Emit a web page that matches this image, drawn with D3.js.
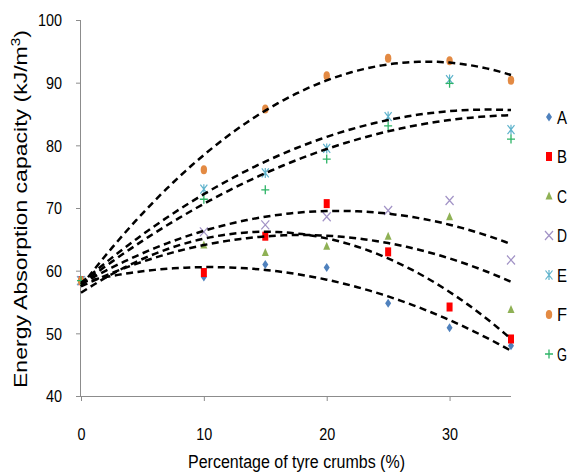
<!DOCTYPE html>
<html>
<head>
<meta charset="utf-8">
<script src="https://cdn.jsdelivr.net/npm/d3@7"></script>
<style>
  html, body { margin: 0; padding: 0; background: #fff; }
  svg { display: block; }
  text { font-family: "Liberation Sans", Arial, sans-serif; fill: #000; }
</style>
</head>
<body>
<svg id="chart" width="576" height="473"></svg>
<script>
// Tyre crumb content (%) on the x axis
const tyreCrumbs = [0, 10, 15, 20, 25, 30, 35];

// Energy absorption capacity (kJ/m3) for each mix
const seriesNames = ["A", "B", "C", "D", "E", "F", "G"];
const seriesA = [58.4, 59.0, 61.0, 60.5, 54.8, 50.9, 48.0];
const seriesB = [58.4, 59.7, 65.5, 70.7, 63.0, 54.2, 49.1];
const seriesC = [58.4, 64.1, 62.9, 63.9, 65.5, 68.6, 53.8];
const seriesD = [58.4, 66.2, 67.3, 68.6, 69.6, 71.2, 61.7];
const seriesE = [58.4, 73.0, 75.6, 79.5, 84.6, 90.5, 82.5];
const seriesF = [58.4, 76.1, 85.8, 91.1, 93.9, 93.5, 90.4];
const seriesG = [58.4, 71.4, 72.9, 77.8, 83.1, 89.9, 81.0];

const xTickValues = [0, 10, 20, 30];
const yTickValues = [40, 50, 60, 70, 80, 90, 100];

const allSeries = [seriesA, seriesB, seriesC, seriesD, seriesE, seriesF, seriesG];

const svg = d3.select("#chart");

const x = d3.scaleLinear().domain([0, 35]).range([81, 511]);
const y = d3.scaleLinear().domain([40, 100]).range([396, 20]);

const axisColor = "#8c8c8c";

// Y axis
const yAxis = svg.append("g")
  .attr("transform", `translate(${x(0)},0)`)
  .call(d3.axisLeft(y).tickValues(yTickValues).tickSize(5).tickPadding(14).tickFormat(d3.format("d")));
yAxis.select(".domain").attr("stroke", axisColor).attr("d", `M-0.5,${y(100)}V${y(40)}`);
yAxis.selectAll(".tick line").attr("stroke", axisColor);
yAxis.selectAll(".tick text")
  .attr("font-size", 16)
  .attr("font-family", "Liberation Sans, Arial, sans-serif")
  .attr("textLength", d => String(d).length * 8)
  .attr("lengthAdjust", "spacingAndGlyphs")
  .attr("dy", "0.36em");

// X axis
const xAxis = svg.append("g")
  .attr("transform", `translate(0,${y(40)})`)
  .call(d3.axisBottom(x).tickValues(xTickValues).tickSize(5).tickPadding(28).tickFormat(d3.format("d")));
xAxis.select(".domain").attr("stroke", axisColor).attr("d", `M${x(0) - 4},0.5H${x(35)}`);
xAxis.selectAll(".tick line").attr("stroke", axisColor);
xAxis.selectAll(".tick text")
  .attr("font-size", 16)
  .attr("font-family", "Liberation Sans, Arial, sans-serif")
  .attr("textLength", d => String(d).length * 8)
  .attr("lengthAdjust", "spacingAndGlyphs");

// Axis titles
svg.append("text")
  .attr("x", 296.5).attr("y", 468)
  .attr("text-anchor", "middle")
  .attr("font-size", 18)
  .attr("textLength", 217)
  .attr("lengthAdjust", "spacingAndGlyphs")
  .text("Percentage of tyre crumbs (%)");

const yTitle = svg.append("text")
  .attr("transform", "translate(27,209) rotate(-90)")
  .attr("text-anchor", "middle")
  .attr("font-size", 18)
  .attr("textLength", 358)
  .attr("lengthAdjust", "spacingAndGlyphs");
yTitle.append("tspan").text("Energy Absorption capacity (kJ/m");
yTitle.append("tspan").attr("dy", -7).attr("font-size", 12).text("3");
yTitle.append("tspan").attr("dy", 7).text(")");

// Marker styles per series
const markers = [
  { color: "#4f81bd", draw: g => g.append("path").attr("d", "M0,-4.5L3,0L0,4.5L-3,0Z").attr("fill", "#4f81bd") },
  { color: "#ff0000", draw: g => g.append("rect").attr("x", -3).attr("y", -4.5).attr("width", 6).attr("height", 9).attr("fill", "#ff0000") },
  { color: "#9bbb59", draw: g => g.append("path").attr("d", "M0,-4.5L3.5,3.5L-3.5,3.5Z").attr("fill", "#8fb155") },
  { color: "#a293c6", draw: g => g.append("path").attr("d", "M-4,-4.5L4,4.5M-4,4.5L4,-4.5").attr("stroke", "#a293c6").attr("stroke-width", 1.2).attr("fill", "none") },
  { color: "#4bacc6", draw: g => g.append("path").attr("d", "M-3.5,-4.5L3.5,4.5M-3.5,4.5L3.5,-4.5M0,-5V5").attr("stroke", "#5fb3cc").attr("stroke-width", 1.2).attr("fill", "none") },
  { color: "#e8893e", draw: g => g.append("ellipse").attr("rx", 3.2).attr("ry", 4.5).attr("fill", "#e38a43") },
  { color: "#2eb467", draw: g => g.append("path").attr("d", "M-4,0H4M0,-4.5V4.5").attr("stroke", "#2eb467").attr("stroke-width", 1.3).attr("fill", "none") }
];

// Data points
allSeries.forEach((vals, i) => {
  vals.forEach((v, j) => {
    const g = svg.append("g").attr("transform", `translate(${x(tyreCrumbs[j])},${y(v)})`);
    markers[i].draw(g);
  });
});

// Second-order polynomial trendline (least squares) for one series
function quadFit(xs, ys) {
  let s = [0, 0, 0, 0, 0], t = [0, 0, 0];
  xs.forEach((xv, k) => {
    for (let p = 0; p < 5; p++) s[p] += Math.pow(xv, p);
    for (let p = 0; p < 3; p++) t[p] += Math.pow(xv, p) * ys[k];
  });
  const m = [
    [s[0], s[1], s[2], t[0]],
    [s[1], s[2], s[3], t[1]],
    [s[2], s[3], s[4], t[2]]
  ];
  for (let c = 0; c < 3; c++) {
    for (let r = c + 1; r < 3; r++) {
      const f = m[r][c] / m[c][c];
      for (let k = c; k < 4; k++) m[r][k] -= f * m[c][k];
    }
  }
  const coef = [0, 0, 0];
  for (let r = 2; r >= 0; r--) {
    let acc = m[r][3];
    for (let k = r + 1; k < 3; k++) acc -= m[r][k] * coef[k];
    coef[r] = acc / m[r][r];
  }
  return xv => coef[0] + coef[1] * xv + coef[2] * xv * xv;
}

const samples = d3.range(0, 35.01, 0.5);
const line = d3.line().x(d => x(d[0])).y(d => y(d[1]));

allSeries.forEach(vals => {
  const f = quadFit(tyreCrumbs, vals);
  svg.append("path")
    .datum(samples.map(s => [s, f(s)]))
    .attr("d", line)
    .attr("fill", "none")
    .attr("stroke", "#000")
    .attr("stroke-width", 2.5)
    .attr("stroke-dasharray", "7,4.5");
});

// Legend
seriesNames.forEach((name, i) => {
  const ly = 117 + i * 39.5;
  const g = svg.append("g").attr("transform", `translate(549,${ly})`);
  markers[i].draw(g);
  svg.append("text")
    .attr("x", 557).attr("y", ly)
    .attr("dy", "0.36em")
    .attr("font-size", 19)
    .attr("textLength", 10)
    .attr("lengthAdjust", "spacingAndGlyphs")
    .text(name);
});
</script>
</body>
</html>
